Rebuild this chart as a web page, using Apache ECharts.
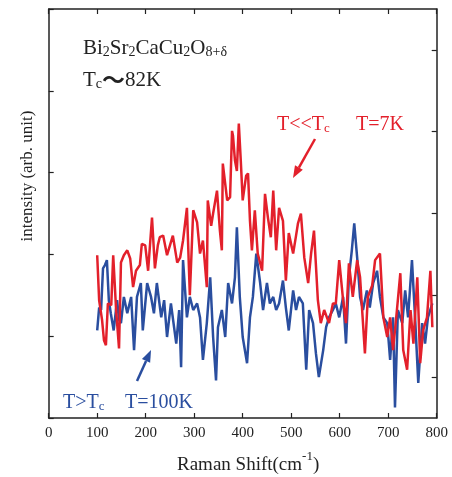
<!DOCTYPE html>
<html>
<head>
<meta charset="utf-8">
<script src="https://cdn.jsdelivr.net/npm/echarts@6/dist/echarts.min.js"></script>
<style>
  html, body { margin: 0; padding: 0; background: #fff; }
  #chart { width: 452px; height: 477px; }
</style>
</head>
<body>
<div id="chart"></div>
<script>
// T = 7K (below Tc), red trace
const shift7K = [100, 104, 110, 114, 118, 122, 129, 133, 139, 145, 149, 155, 162, 168, 174, 180, 188, 192, 199, 205,
  213, 219, 225, 229, 236, 244, 250, 256, 265, 271, 277, 285, 291, 298, 306, 312, 318, 326, 328, 335,
  339, 347, 353, 357, 359, 368, 374, 378, 380, 384, 388, 392, 396, 400, 407, 411, 415, 419, 425, 431,
  440, 446, 452, 458, 463, 469, 475, 483, 489, 495, 504, 510, 514, 520, 527, 535, 541, 547, 555, 561,
  568, 578, 586, 592, 599, 607, 613, 619, 627, 636, 642, 652, 658, 667, 673, 683, 690, 698, 704, 710,
  718, 725, 731, 739, 746, 752, 760, 766, 772, 780, 787, 791];
const intensity7K = [19.9, 14.4, 12.0, 9.5, 8.9, 14.0, 13.8, 19.9, 13.2, 8.5, 19.0, 19.9, 20.5, 19.5, 16.0, 18.0, 18.7, 21.3, 21.1, 18.0,
  24.5, 18.3, 21.1, 22.1, 22.3, 19.9, 21.1, 22.3, 19.0, 19.6, 21.7, 25.7, 15.0, 25.4, 23.9, 20.1, 21.7, 16.0, 26.6, 23.5,
  25.0, 27.8, 22.9, 20.5, 31.1, 26.6, 27.0, 35.1, 34.5, 31.5, 30.2, 36.0, 31.5, 26.6, 29.6, 29.9, 24.1, 20.5, 25.4, 20.1,
  18.0, 27.4, 24.5, 22.1, 27.8, 20.5, 25.7, 24.1, 16.8, 22.6, 20.1, 22.3, 23.8, 25.0, 19.6, 16.5, 20.1, 22.9, 14.4, 11.6,
  13.2, 11.6, 14.0, 14.0, 19.3, 14.4, 11.6, 18.9, 14.8, 19.3, 17.2, 7.9, 14.8, 16.2, 19.3, 20.1, 12.3, 9.9, 12.3, 8.3,
  13.2, 17.7, 8.3, 5.9, 13.2, 9.1, 17.2, 6.7, 10.7, 12.3, 18.0, 11.1];

// T = 100K (above Tc), blue trace
const shift100K = [100, 104, 108, 112, 116, 120, 124, 128, 134, 141, 145, 149, 155, 162, 170, 176, 182, 190, 194, 203,
  211, 217, 223, 232, 238, 244, 252, 263, 269, 273, 277, 285, 291, 298, 306, 312, 318, 326, 333, 339,
  345, 349, 357, 364, 370, 378, 384, 388, 394, 400, 409, 415, 421, 428, 436, 442, 450, 456, 463, 469,
  475, 483, 489, 495, 504, 510, 516, 524, 531, 537, 545, 551, 557, 566, 572, 578, 586, 592, 599, 607,
  613, 619, 625, 630, 636, 642, 648, 656, 662, 669, 677, 683, 690, 698, 704, 710, 714, 720, 729, 735,
  741, 749, 756, 762, 770, 776, 782, 791];
const intensity100K = [10.7, 13.5, 13.2, 18.3, 18.7, 19.3, 14.4, 12.8, 10.7, 14.4, 12.0, 11.6, 14.8, 12.8, 14.8, 8.3, 14.8, 16.5, 10.7, 16.5,
  14.8, 12.8, 16.5, 12.3, 14.4, 9.9, 14.0, 9.1, 13.2, 6.2, 19.3, 12.3, 14.8, 13.2, 14.0, 12.3, 7.1, 11.6, 17.2, 9.9,
  4.6, 11.1, 13.2, 9.9, 16.5, 14.0, 17.2, 23.3, 14.8, 9.9, 6.7, 12.3, 14.8, 20.1, 16.5, 13.2, 16.5, 14.0, 14.8, 13.2,
  14.0, 16.8, 13.5, 10.7, 15.6, 13.2, 14.8, 14.0, 5.9, 13.2, 11.6, 7.9, 5.0, 8.3, 11.1, 12.3, 13.2, 14.0, 12.3, 14.8,
  9.1, 17.2, 20.5, 23.8, 19.6, 14.8, 13.2, 15.6, 13.5, 16.5, 18.0, 14.8, 12.3, 11.6, 7.1, 12.3, 1.3, 13.2, 11.6, 15.6,
  12.3, 19.3, 11.6, 4.3, 11.6, 9.1, 12.3, 14.0];

const xMin = 0, xMax = 800, xStep = 100;
const yMin = 0, yMax = 50, yStep = 10;
// right-hand frame ticks sit half-way between the left ones
const rightTicks = [5, 15, 25, 35, 45];

const RED = '#e3202b';
const BLUE = '#2a4e9f';
const INK = '#222';
const SERIF = '"Liberation Serif", "Times New Roman", serif';

const zip = (xs, ys) => xs.map((x, i) => [x, ys[i]]);

function arrow(x1, y1, x2, y2, color) {
  const dx = x2 - x1, dy = y2 - y1;
  const len = Math.hypot(dx, dy);
  const ux = dx / len, uy = dy / len;
  const bx = x2 - 12 * ux, by = y2 - 12 * uy;
  return [
    { type: 'line', shape: { x1: x1, y1: y1, x2: bx, y2: by }, style: { stroke: color, lineWidth: 2.5 } },
    { type: 'polygon', shape: { points: [[x2, y2], [bx + 4.5 * uy, by - 4.5 * ux], [bx - 4.5 * uy, by + 4.5 * ux]] },
      style: { fill: color } }
  ];
}

function label(x, y, text, color, size) {
  return {
    type: 'text', x: x, y: y,
    style: {
      text: text, fill: color, font: size + 'px ' + SERIF, verticalAlign: 'bottom',
      rich: {
        n: { fontSize: size, fontFamily: SERIF, fill: color, lineHeight: size + 6, verticalAlign: 'bottom' },
        w: { fontSize: size + 2, fontFamily: '"Noto Sans CJK JP"', fontWeight: 'bold', fill: color, lineHeight: size + 6, verticalAlign: 'bottom' },
        s: { fontSize: Math.round(size * 0.66), fontFamily: SERIF, fill: color, lineHeight: size * 0.66, verticalAlign: 'bottom' },
        u: { fontSize: Math.round(size * 0.66), fontFamily: SERIF, fill: color, lineHeight: size + 6, verticalAlign: 'top' }
      }
    }
  };
}

const chart = echarts.init(document.getElementById('chart'));

const tickStyle = { show: true, inside: true, length: 5, lineStyle: { color: INK, width: 1.2 } };
const lineStyle = { show: true, onZero: false, lineStyle: { color: INK, width: 1.5 } };

chart.setOption({
  animation: false,
  grid: { left: 48.7, right: 15.3, top: 9, bottom: 59 },
  xAxis: [
    { type: 'value', position: 'bottom', min: xMin, max: xMax, interval: xStep,
      axisLine: lineStyle, axisTick: tickStyle, splitLine: { show: false },
      axisLabel: { color: INK, fontSize: 15, fontFamily: SERIF, margin: 8 } },
    { type: 'value', position: 'top', min: xMin, max: xMax, interval: xStep,
      axisLine: lineStyle, axisTick: tickStyle, splitLine: { show: false }, axisLabel: { show: false } }
  ],
  yAxis: [
    { type: 'value', position: 'left', min: yMin, max: yMax, interval: yStep,
      axisLine: lineStyle, axisTick: tickStyle, splitLine: { show: false }, axisLabel: { show: false } },
    { type: 'value', position: 'right', min: yMin, max: yMax,
      axisLine: lineStyle, axisTick: Object.assign({ customValues: rightTicks }, tickStyle),
      splitLine: { show: false }, axisLabel: { show: false } }
  ],
  series: [
    { name: 'T=100K', type: 'line', data: zip(shift100K, intensity100K), showSymbol: false,
      lineStyle: { color: BLUE, width: 2.5 }, itemStyle: { color: BLUE } },
    { name: 'T=7K', type: 'line', data: zip(shift7K, intensity7K), showSymbol: false,
      lineStyle: { color: RED, width: 2.5 }, itemStyle: { color: RED } }
  ],
  graphic: [
    label(83, 59, '{n|Bi}{s|2}{n|Sr}{s|2}{n|CaCu}{s|2}{n|O}{s|8+δ}', INK, 21),
    label(83, 91, '{n|T}{s|c}{w|〜}{n|82K}', INK, 21),
    label(277, 135, '{n|T<<T}{s|c}', RED, 20),
    label(356, 135, '{n|T=7K}', RED, 20),
    label(63, 413, '{n|T>T}{s|c}', BLUE, 20),
    label(125, 413, '{n|T=100K}', BLUE, 20),
    ...arrow(315, 139, 293, 178, RED),
    ...arrow(137, 381, 151, 350, BLUE),
    { type: 'text', x: 28, y: 176, rotation: Math.PI / 2,
      style: { text: 'intensity (arb. unit)', fill: INK, font: '17px ' + SERIF, align: 'center', verticalAlign: 'middle' } },
    label(177, 475, '{n|Raman Shift(cm}{u|-1}{n|)}', INK, 19)
  ]
});
</script>
</body>
</html>
